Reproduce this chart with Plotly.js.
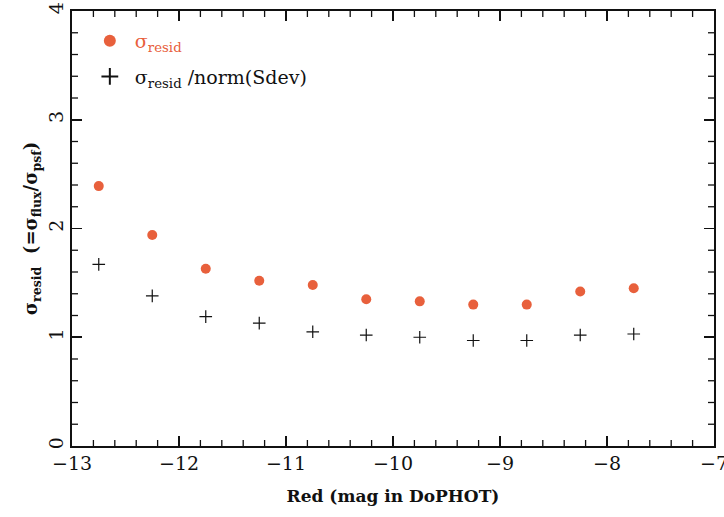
<!DOCTYPE html>
<html><head><meta charset="utf-8">
<script src="https://cdn.plot.ly/plotly-3.0.1.min.js"></script>
<style>html,body{margin:0;padding:0;background:#fff}</style>
</head><body>
<div id="chart" style="width:724px;height:517px"></div>
<script>
const mags = [-12.75, -12.25, -11.75, -11.25, -10.75, -10.25, -9.75, -9.25, -8.75, -8.25, -7.75];
const sigmaResid = [2.39, 1.94, 1.63, 1.52, 1.48, 1.35, 1.33, 1.30, 1.30, 1.42, 1.45];
const sigmaNorm = [1.67, 1.38, 1.19, 1.13, 1.05, 1.02, 1.00, 0.97, 0.97, 1.02, 1.03];
const xRange = [-13, -7];
const yRange = [0, 4];

const serif = "DejaVu Serif, Liberation Serif, serif";
const red = "#e8603c";

const W = 724, H = 517;
const M = {l: 72, r: 10, t: 11, b: 71};
const plotW = W - M.l - M.r, plotH = H - M.t - M.b;
const minorLen = 6; // pixels

const traces = [
  {x: mags, y: sigmaResid, mode: "markers", type: "scatter", legendgroup: "a",
   name: '<span style="color:' + red + '">σ<sub>resid</sub></span>',
   marker: {symbol: "circle", size: 10, color: red}},
  {x: mags, y: sigmaNorm, mode: "markers", type: "scatter", legendgroup: "b",
   name: "σ<sub>resid</sub> /norm(Sdev)",
   marker: {symbol: "cross-thin", size: 9, color: "#111", line: {color: "#111", width: 1.2}}}
];

const xR = [xRange[0] - 0.0001, xRange[1] + 0.0001];
const yR = [yRange[0] - 0.0001, yRange[1] + 0.0001];

// minor tick marks (axis decoration) every 0.2 units, on all four sides
const shapes = [];
const minorLine = {color: "#111", width: 1.3};
const fy = minorLen / plotH, fx = minorLen / plotW;
const nx = Math.round((xRange[1] - xRange[0]) / 0.2);
for (let i = 1; i < nx; i++) {
  if (i % 5 === 0) continue;
  const v = xRange[0] + i * 0.2;
  shapes.push({type: "line", xref: "x", yref: "paper", x0: v, x1: v, y0: 0, y1: fy, line: minorLine, layer: "above"});
  shapes.push({type: "line", xref: "x", yref: "paper", x0: v, x1: v, y0: 1, y1: 1 - fy, line: minorLine, layer: "above"});
}
const ny = Math.round((yRange[1] - yRange[0]) / 0.2);
for (let i = 1; i < ny; i++) {
  if (i % 5 === 0) continue;
  const v = yRange[0] + i * 0.2;
  shapes.push({type: "line", xref: "paper", yref: "y", y0: v, y1: v, x0: 0, x1: fx, line: minorLine, layer: "above"});
  shapes.push({type: "line", xref: "paper", yref: "y", y0: v, y1: v, x0: 1, x1: 1 - fx, line: minorLine, layer: "above"});
}

const axisCommon = {
  showline: true, linecolor: "#111", linewidth: 1.6, mirror: "ticks",
  ticks: "inside", ticklen: 10, tickwidth: 1.5, tickcolor: "#111",
  tickmode: "linear", dtick: 1, ticklabeloverflow: "allow",
  showgrid: false, zeroline: false,
  tickfont: {family: serif, size: 19, color: "#111"}
};

const layout = {
  width: W, height: H,
  margin: M,
  paper_bgcolor: "#fff", plot_bgcolor: "#fff",
  showlegend: true,
  shapes: shapes,
  legend: {x: 0.02, y: 0.975, xanchor: "left", yanchor: "top", traceorder: "grouped",
           font: {family: serif, size: 19, color: "#111"}, itemwidth: 40,
           bgcolor: "rgba(0,0,0,0)", itemsizing: "constant", tracegroupgap: 8},
  xaxis: Object.assign({}, axisCommon, {
    range: xR, tick0: xRange[0],
    title: {text: "<b>Red (mag in DoPHOT)</b>", font: {family: serif, size: 17, color: "#111"}, standoff: 16}
  }),
  yaxis: Object.assign({}, axisCommon, {
    range: yR, tick0: 0, tickangle: -90,
    title: {text: "<b>σ<sub>resid</sub>  (=σ<sub>flux</sub>/σ<sub>psf</sub>)</b>", font: {family: serif, size: 18, color: "#111"}, standoff: 2}
  })
};

Plotly.newPlot("chart", traces, layout, {displayModeBar: false, staticPlot: true});
</script>
</body></html>
